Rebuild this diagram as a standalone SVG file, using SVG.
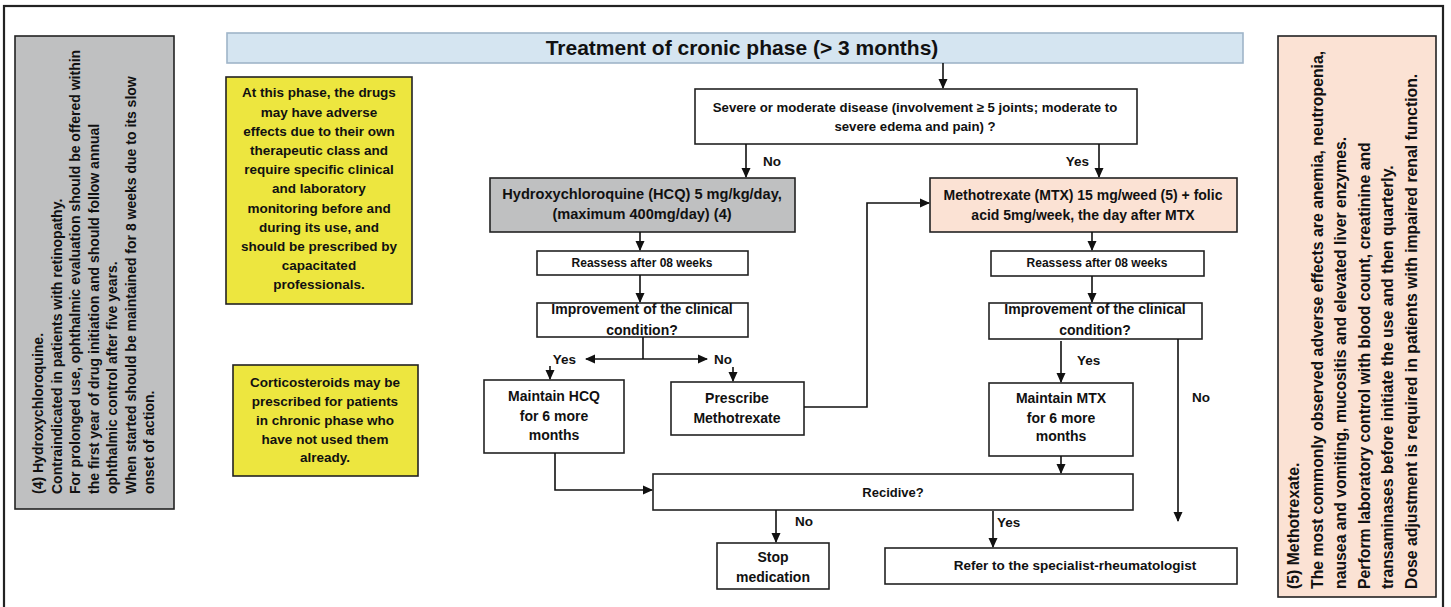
<svg xmlns="http://www.w3.org/2000/svg" width="1451" height="607" viewBox="0 0 1451 607">
<defs>
<style>
text{font-family:"Liberation Sans",Arial,sans-serif;font-weight:bold;fill:#111;}
.c{text-anchor:middle;}
.box{fill:#fff;stroke:#222;stroke-width:1.6;}
.gray{fill:#bfc0c1;stroke:#222;stroke-width:1.6;}
.salmon{fill:#fbe2d4;stroke:#222;stroke-width:1.6;}
.yellow{fill:#ede63f;stroke:#222;stroke-width:1.6;}
.ln{fill:none;stroke:#111;stroke-width:1.6;}
.f12{font-size:12px;}
.f13{font-size:13px;}
.f135{font-size:13.5px;}
.f14{font-size:14px;}
.side{font-size:14px;}
.side2{font-size:15.8px;}
</style>
<marker id="ah" markerWidth="10" markerHeight="10" refX="9" refY="5" orient="auto-start-reverse" markerUnits="userSpaceOnUse">
<path d="M0,0.5 L10,5 L0,9.5 z" fill="#111"/>
</marker>
</defs>
<rect x="0" y="0" width="1451" height="607" fill="#fff"/>
<rect x="4" y="6" width="1439" height="620" fill="none" stroke="#222" stroke-width="2.2"/>

<g id="note-hcq">
<rect class="gray" x="15" y="36" width="159" height="473"/>
<g class="side">
<text transform="translate(43,494) rotate(-90)">(4) Hydroxychloroquine.</text>
<text transform="translate(61.5,494) rotate(-90)">Contraindicated in patients with retinopathy.</text>
<text transform="translate(80,494) rotate(-90)">For prolonged use, ophthalmic evaluation should be offered within</text>
<text transform="translate(98.5,494) rotate(-90)">the first year of drug initiation and should follow annual</text>
<text transform="translate(117,494) rotate(-90)">ophthalmic control after five years.</text>
<text transform="translate(135.5,494) rotate(-90)">When started should be maintained for 8 weeks due to its slow</text>
<text transform="translate(154,494) rotate(-90)">onset of action.</text>
</g>
</g>

<g id="note-mtx">
<rect class="salmon" x="1278" y="36" width="158" height="561"/>
<g class="side2">
<text transform="translate(1299,589) rotate(-90)">(5) Methotrexate.</text>
<text transform="translate(1322.5,589) rotate(-90)">The most commonly observed adverse effects are anemia, neutropenia,</text>
<text transform="translate(1346,589) rotate(-90)">nausea and vomiting, mucositis and elevated liver enzymes.</text>
<text transform="translate(1369.5,589) rotate(-90)">Perform laboratory control with blood count, creatinine and</text>
<text transform="translate(1393,589) rotate(-90)">transaminases before initiate the use and then quarterly.</text>
<text transform="translate(1416.5,589) rotate(-90)">Dose adjustment is required in patients with impaired renal function.</text>
</g>
</g>

<g id="title">
<rect x="227" y="33" width="1016" height="30" fill="#d5e5f1" stroke="#9fb5c9" stroke-width="1.6"/>
<text class="c" x="742" y="55" style="font-size:21px">Treatment of cronic phase (&gt; 3 months)</text>
</g>

<g id="note-phase">
<rect class="yellow" x="226" y="77" width="186" height="227"/>
<g class="c f135">
<text x="319" y="97">At this phase, the drugs</text>
<text x="319" y="116.5">may have adverse</text>
<text x="319" y="135.5">effects due to their own</text>
<text x="319" y="155">therapeutic class and</text>
<text x="319" y="174">require specific clinical</text>
<text x="319" y="193">and laboratory</text>
<text x="319" y="212.5">monitoring before and</text>
<text x="319" y="231.5">during its use, and</text>
<text x="319" y="251">should be prescribed by</text>
<text x="319" y="270">capacitated</text>
<text x="319" y="289">professionals.</text>
</g>
</g>

<g id="note-cortico">
<rect class="yellow" x="233" y="365" width="185" height="111"/>
<g class="c f135">
<text x="325" y="387">Corticosteroids may be</text>
<text x="325" y="406">prescribed for patients</text>
<text x="325" y="425">in chronic phase who</text>
<text x="325" y="444">have not used them</text>
<text x="325" y="462">already.</text>
</g>
</g>

<g id="severe">
<rect class="box" x="695" y="89" width="442" height="55"/>
<text class="c" style="font-size:13.2px" x="915" y="112">Severe or moderate disease (involvement ≥ 5 joints; moderate to</text>
<text class="c" style="font-size:13.2px" x="915" y="131">severe edema and pain) ?</text>
</g>

<g id="hcq">
<rect class="gray" x="490" y="178" width="305" height="54"/>
<text class="c" style="font-size:14.6px" x="642" y="199">Hydroxychloroquine (HCQ) 5 mg/kg/day,</text>
<text class="c" style="font-size:14.6px" x="642" y="219">(maximum 400mg/day) (4)</text>
</g>

<g id="mtx">
<rect class="salmon" x="930" y="178" width="307" height="54"/>
<text class="c f14" x="1083" y="200">Methotrexate (MTX) 15 mg/weed (5) + folic</text>
<text class="c f14" x="1083" y="220">acid 5mg/week, the day after MTX</text>
</g>

<g id="reassess-hcq">
<rect class="box" x="537" y="251" width="211" height="24"/>
<text class="c f12" x="642" y="267">Reassess after 08 weeks</text>
</g>

<g id="improve-hcq">
<rect class="box" x="537" y="303" width="211" height="34"/>
<text class="c f14" x="642" y="314">Improvement of the clinical</text>
<text class="c f14" x="642" y="335">condition?</text>
</g>

<g id="maintain-hcq">
<rect class="box" x="484" y="380" width="140" height="73"/>
<text class="c f14" x="554" y="401">Maintain HCQ</text>
<text class="c f14" x="554" y="421">for 6 more</text>
<text class="c f14" x="554" y="440">months</text>
</g>

<g id="prescribe-mtx">
<rect class="box" x="671" y="382" width="133" height="53"/>
<text class="c f14" x="737" y="403">Prescribe</text>
<text class="c f14" x="737" y="423">Methotrexate</text>
</g>

<g id="reassess-mtx">
<rect class="box" x="991" y="251" width="213" height="25"/>
<text class="c f12" x="1097" y="267">Reassess after 08 weeks</text>
</g>

<g id="improve-mtx">
<rect class="box" x="989" y="303" width="213" height="36"/>
<text class="c f14" x="1095" y="314">Improvement of the clinical</text>
<text class="c f14" x="1095" y="335">condition?</text>
</g>

<g id="maintain-mtx">
<rect class="box" x="989" y="383" width="144" height="73"/>
<text class="c f14" x="1061" y="403">Maintain MTX</text>
<text class="c f14" x="1061" y="423">for 6 more</text>
<text class="c f14" x="1061" y="441">months</text>
</g>

<g id="recidive">
<rect class="box" x="653" y="474" width="480" height="36"/>
<text class="c f13" x="893" y="497">Recidive?</text>
</g>

<g id="stop">
<rect class="box" x="717" y="543" width="112" height="46"/>
<text class="c f14" x="773" y="562">Stop</text>
<text class="c f14" x="773" y="582">medication</text>
</g>

<g id="refer">
<rect class="box" x="885" y="548" width="352" height="36"/>
<text class="c f135" x="1075" y="570">Refer to the specialist-rheumatologist</text>
</g>

<g id="connectors">
<path class="ln" d="M943,63 V88" marker-end="url(#ah)"/>
<path class="ln" d="M746,144 V177" marker-end="url(#ah)"/>
<path class="ln" d="M1099,144 V177" marker-end="url(#ah)"/>
<path class="ln" d="M640,232 V250" marker-end="url(#ah)"/>
<path class="ln" d="M640,275 V302" marker-end="url(#ah)"/>
<path class="ln" d="M643,337 V359"/>
<path class="ln" d="M586,359 H707" marker-start="url(#ah)" marker-end="url(#ah)"/>
<path class="ln" d="M550,366 V379" marker-end="url(#ah)"/>
<path class="ln" d="M733,367 V381" marker-end="url(#ah)"/>
<path class="ln" d="M804,407 H867 V203 H929" marker-end="url(#ah)"/>
<path class="ln" d="M1092,232 V250" marker-end="url(#ah)"/>
<path class="ln" d="M1092,276 V302" marker-end="url(#ah)"/>
<path class="ln" d="M1061,341 V382" marker-end="url(#ah)"/>
<path class="ln" d="M1178,339 V521" marker-end="url(#ah)"/>
<path class="ln" d="M1061,456 V473" marker-end="url(#ah)"/>
<path class="ln" d="M555,453 V490 H652" marker-end="url(#ah)"/>
<path class="ln" d="M776,510 V542" marker-end="url(#ah)"/>
<path class="ln" d="M993,511 V547" marker-end="url(#ah)"/>
<g class="f135">
<text x="763" y="166">No</text>
<text x="1089" y="166" text-anchor="end">Yes</text>
<text x="576" y="364" text-anchor="end">Yes</text>
<text x="714" y="364">No</text>
<text x="1077" y="365">Yes</text>
<text x="1192" y="402">No</text>
<text x="795" y="526">No</text>
<text x="997" y="527">Yes</text>
</g>
</g>
</svg>
